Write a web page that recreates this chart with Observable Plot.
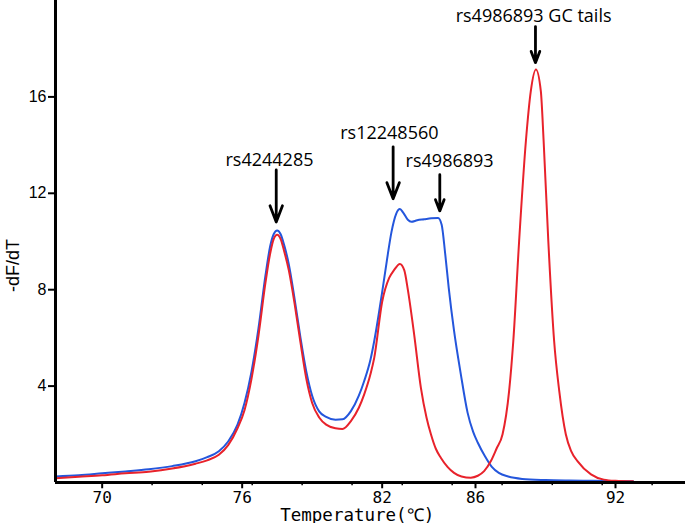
<!DOCTYPE html>
<html><head><meta charset="utf-8">
<script src="https://cdn.jsdelivr.net/npm/d3@7"></script>
<script src="https://cdn.jsdelivr.net/npm/@observablehq/plot@0.6"></script>
<style>body{margin:0;background:#fff}</style>
</head><body><div id="chart"></div>
<script>
// Blue curve (temperature °C, -dF/dT)
const blueTemp = [68, 69, 70, 71, 72, 73, 74, 74.5, 75, 75.4, 75.8, 76.1, 76.4, 76.7, 77.0, 77.2, 77.35, 77.5, 77.65, 77.8, 78.0, 78.25, 78.5, 78.75, 79.0, 79.3, 79.6, 80.0, 80.3, 80.66, 81.0, 81.23, 81.5, 81.66, 82.0, 82.2, 82.4, 82.6, 82.76, 82.9, 83.1, 83.25, 83.5, 83.8, 84.1, 84.4, 84.55, 84.7, 84.85, 85.08, 85.37, 85.66, 85.9, 86.1, 86.4, 86.7, 87.0, 87.4, 88.0, 89, 90, 91, 92.75];
const blueDfdt = [0.25, 0.3, 0.38, 0.46, 0.55, 0.68, 0.88, 1.05, 1.3, 1.7, 2.4, 3.3, 4.6, 6.4, 8.6, 9.8, 10.3, 10.46, 10.3, 9.85, 9.05, 7.6, 6.0, 4.6, 3.6, 2.95, 2.72, 2.6, 2.62, 2.96, 3.6, 4.21, 5.1, 5.87, 7.9, 9.2, 10.4, 11.15, 11.35, 11.2, 10.9, 10.82, 10.88, 10.92, 10.96, 10.98, 10.7, 9.5, 8.1, 6.3, 4.5, 2.9, 2.1, 1.65, 1.1, 0.65, 0.4, 0.25, 0.15, 0.1, 0.08, 0.07, 0.05];
// Red curve
const redTemp = [68, 69, 70, 71, 72, 73, 74, 74.5, 75, 75.4, 75.8, 76.1, 76.4, 76.7, 77.0, 77.2, 77.35, 77.5, 77.65, 77.8, 78.0, 78.25, 78.5, 78.75, 79.0, 79.3, 79.6, 80.0, 80.3, 80.66, 81.0, 81.23, 81.5, 81.66, 82.0, 82.3, 82.5, 82.76, 82.95, 83.1, 83.37, 83.66, 83.9, 84.09, 84.3, 84.52, 84.8, 85.08, 85.4, 85.8, 86.1, 86.37, 86.66, 86.9, 87.16, 87.44, 87.62, 87.87, 88.16, 88.37, 88.59, 88.8, 88.92, 89.12, 89.37, 89.59, 89.87, 90.1, 90.37, 90.95, 91.5, 92, 92.75];
const redDfdt = [0.18, 0.24, 0.3, 0.38, 0.45, 0.58, 0.78, 0.92, 1.15, 1.55, 2.25, 3.0, 4.3, 6.1, 8.3, 9.5, 10.1, 10.28, 10.1, 9.6, 8.8, 7.4, 5.8, 4.3, 3.3, 2.7, 2.4, 2.25, 2.22, 2.55, 3.1, 3.66, 4.5, 5.17, 7.5, 8.49, 8.8, 9.07, 8.8, 8.0, 6.15, 3.93, 2.7, 2.0, 1.4, 1.02, 0.65, 0.4, 0.25, 0.2, 0.28, 0.47, 0.89, 1.4, 2.0, 3.79, 5.87, 10.02, 14.17, 16.24, 17.14, 16.24, 14.17, 10.02, 5.87, 3.79, 2.0, 1.3, 0.89, 0.34, 0.12, 0.07, 0.05];

// Annotations
const annLabels = ["rs4244285", "rs12248560", "rs4986893", "rs4986893 GC tails"];
const annLabelTemp = [77.17, 82.31, 84.89, 88.49];
const annLabelDfdt = [13.14, 14.26, 13.10, 19.09];
const arrowTemp = [77.46, 82.47, 84.47, 88.57];
const arrowFrom = [12.97, 13.93, 12.77, 18.92];
const arrowTo = [10.81, 11.77, 11.27, 17.42];

// Axes
const xTicks = [70, 76, 82, 86, 92];
const xMinorTicks = [72.14, 74.29, 76.43, 78.57, 80.71, 82.86, 85, 87.14, 89.29, 91.43, 93.57];
const yTicks = [4, 8, 12, 16];
const xTitle = "Temperature(℃)";
const yTitle = "-dF/dT";

const blue = blueTemp.map((t, i) => ({t, v: blueDfdt[i]}));
const red = redTemp.map((t, i) => ({t, v: redDfdt[i]}));
const ann = annLabels.map((l, i) => ({l, x: annLabelTemp[i], y: annLabelDfdt[i], ax: arrowTemp[i], y1: arrowFrom[i], y2: arrowTo[i]}));

const chart = Plot.plot({
  width: 685,
  height: 523,
  marginLeft: 55,
  marginRight: 0,
  marginTop: 0,
  marginBottom: 41,
  x: {domain: [68, 95], axis: null},
  y: {domain: [0, 20]},
  style: {background: "#fff", overflow: "visible", fontSize: "16px", fontFamily: "Liberation Sans, Arial, sans-serif"},
  marks: [
    Plot.line(blue, {x: "t", y: "v", stroke: "#2456dc", strokeWidth: 2, curve: "monotone-x"}),
    Plot.line(red, {x: "t", y: "v", stroke: "#e8222b", strokeWidth: 2, curve: "monotone-x"}),
    Plot.ruleY([0], {stroke: "#000", strokeWidth: 3}),
    Plot.ruleX([68], {stroke: "#000", strokeWidth: 3}),
    Plot.ruleX(xMinorTicks, {y1: 0, y2: -0.13, stroke: "#000", strokeWidth: 1.5}),
    Plot.ruleX(xTicks, {y1: 0, y2: -0.26, stroke: "#000", strokeWidth: 2}),
    Plot.axisY({ticks: yTicks, tickSize: 7, tickPadding: 2, label: null, strokeWidth: 2, tickFormat: d => String(d)}),
    Plot.text(xTicks, {x: d => d, y: () => 0, text: d => String(d), dy: 9, lineAnchor: "top", textAnchor: "middle", fontSize: 16, fontFamily: "DejaVu Sans Mono", fill: "#000"}),
    Plot.text([0], {x: [80.93], y: [0], text: [xTitle], dy: 38, lineAnchor: "bottom", textAnchor: "middle", fontSize: 17.5, fontFamily: "DejaVu Sans Mono", fill: "#000"}),
    Plot.text([0], {x: [68], y: [9], text: [yTitle], dx: -42, rotate: -90, lineAnchor: "middle", textAnchor: "middle", fontSize: 18, fontFamily: "Liberation Sans", fill: "#000"}),
    Plot.arrow(ann, {x1: "ax", x2: "ax", y1: "y1", y2: "y2", stroke: "#000", strokeWidth: 2.8, headLength: 19, headAngle: 42, bend: 0}),
    Plot.text(ann, {x: "x", y: "y", text: "l", lineAnchor: "bottom", textAnchor: "middle", fontSize: 18, fontFamily: "Open Sans", fill: "#000"})
  ]
});
document.getElementById("chart").appendChild(chart);
</script>
</body></html>
